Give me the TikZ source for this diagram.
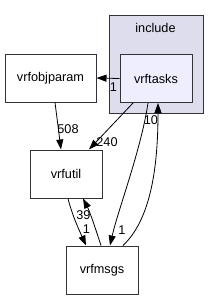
\documentclass[tikz,border=0pt]{standalone}
\usepackage{fontspec}
\setmainfont{Liberation Sans}
\usepackage{tikz}
\usetikzlibrary{arrows.meta,calc}
\usepackage{xcolor}
\definecolor{clusterfill}{HTML}{DDDDEE}
\definecolor{dirfill}{HTML}{EEEEFF}
\definecolor{dirline}{HTML}{333333}
\tikzset{
  dirbox/.style={
    draw=dirline,
    fill=white,
    line width=1pt,
    minimum width=72pt,
    minimum height=48pt,
    inner sep=0pt,
    align=center,
    font=\fontsize{12.7}{14}\selectfont
  },
  innerbox/.style={
    dirbox,
    fill=dirfill
  },
  cluster/.style={
    draw=dirline,
    fill=clusterfill,
    line width=1pt
  },
  count/.style={
    inner sep=0pt,
    font=\fontsize{12.7}{14}\selectfont
  },
  arrow/.style={
    -{Triangle[length=10pt,width=7pt]},
    line width=0.8pt,
    draw=black
  }
}
\begin{document}
\begin{tikzpicture}[x=1pt,y=-1pt]
\useasboundingbox (0,0) rectangle (219,300);
\draw[cluster] (109,15) rectangle (203,113);
\node[count] (include) at (155.5,28) {include};
\node[innerbox] (vrftasks) at (156,78.5) {vrftasks};
\node[dirbox, minimum width=91pt] (vrfobjparam) at (50.5,78) {vrfobjparam};
\node[dirbox] (vrfutil) at (66,174) {vrfutil};
\node[dirbox] (vrfmsgs) at (102,270) {vrfmsgs};

\draw[arrow] (vrftasks.west) -- (vrfobjparam.east);
\draw[arrow] ([xshift=4.5pt]vrfobjparam.south) -- ([xshift=-5pt]vrfutil.north);
\draw[arrow] ([xshift=-23pt]vrftasks.south) -- ([xshift=23pt]vrfutil.north);
\draw[arrow] ([xshift=-8pt]vrftasks.south) .. controls (141,150) and (118,210) .. ([xshift=8pt]vrfmsgs.north);
\draw[arrow] ([xshift=21pt]vrfmsgs.north) .. controls (150,220) and (158,170) .. ([xshift=2pt]vrftasks.south);
\draw[arrow] ([xshift=2pt]vrfutil.south) .. controls (72,215) and (80,232) .. ([xshift=-16pt]vrfmsgs.north);
\draw[arrow] ([xshift=-1pt]vrfmsgs.north) .. controls (96,230) and (90,212) .. ([xshift=17pt]vrfutil.south);

% edge counts
\node[count] (c1) at (113.5,87) {1};
\node[count] (c508) at (68,129) {508};
\node[count] (c240) at (107,142) {240};
\node[count] (c10) at (151,120) {10};
\node[count] (c39) at (83.5,215.5) {39};
\node[count] (c1b) at (86.5,229) {1};
\node[count] (c1c) at (122,230) {1};
\end{tikzpicture}
\end{document}
